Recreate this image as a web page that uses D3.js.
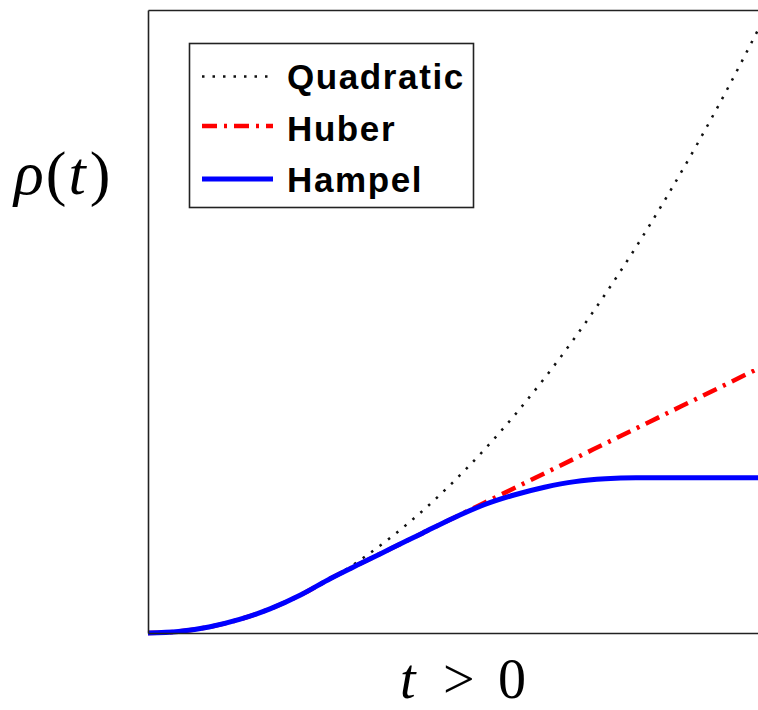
<!DOCTYPE html>
<html>
<head>
<meta charset="utf-8">
<script src="https://cdn.jsdelivr.net/npm/d3@7"></script>
<style>
  html, body { margin: 0; padding: 0; background: #fff; }
  svg { display: block; }
</style>
</head>
<body>
<svg id="chart" width="758" height="710"></svg>
<script>
// Loss functions rho(t) for t > 0, sampled at these t values
const tValues = [0, 0.5, 1, 1.5, 2, 2.5, 3, 3.5, 4, 4.5, 5, 5.5, 6, 6.5, 7, 7.5, 8, 8.5, 9, 9.5, 10];
const quadraticValues = [0, 0.024, 0.097, 0.218, 0.387, 0.605, 0.871, 1.186, 1.549, 1.960, 2.420, 2.928, 3.485, 4.090, 4.743, 5.445, 6.195, 6.994, 7.841, 8.736, 9.680];
const huberValues = [0, 0.024, 0.097, 0.218, 0.387, 0.610, 0.880, 1.123, 1.363, 1.603, 1.843, 2.083, 2.323, 2.563, 2.803, 3.043, 3.283, 3.523, 3.763, 4.003, 4.243];
const hampelValues = [0, 0.024, 0.097, 0.218, 0.387, 0.610, 0.880, 1.123, 1.363, 1.603, 1.843, 2.055, 2.215, 2.340, 2.430, 2.475, 2.490, 2.490, 2.490, 2.490, 2.490];
const seriesNames = ["Quadratic", "Huber", "Hampel"];

const svg = d3.select("#chart");
const x = d3.scaleLinear().domain([0, 10]).range([148, 758]);
const y = d3.scaleLinear().domain([0, 10]).range([633, 10]);

const styles = {
  Quadratic: { color: "#111", width: 2.5, dash: "2.5,8" },
  Huber:     { color: "#ff0000", width: 4.5, dash: "15,7,3,7" },
  Hampel:    { color: "#0000ff", width: 5, dash: null }
};
const valuesBy = { Quadratic: quadraticValues, Huber: huberValues, Hampel: hampelValues };

svg.append("clipPath").attr("id", "plot-clip")
  .append("rect").attr("x", 146).attr("y", 8).attr("width", 620).attr("height", 628);

const line = d3.line()
  .x(d => x(d[0]))
  .y(d => y(d[1]))
  .curve(d3.curveMonotoneX);

const plot = svg.append("g").attr("clip-path", "url(#plot-clip)");
seriesNames.forEach(name => {
  const s = styles[name];
  plot.append("path")
    .datum(tValues.map((t, i) => [t, valuesBy[name][i]]))
    .attr("fill", "none")
    .attr("stroke", s.color)
    .attr("stroke-width", s.width)
    .attr("stroke-dasharray", s.dash)
    .attr("d", line);
});

// Frame: bottom, left and top edges, no ticks
const frame = svg.append("g").attr("class", "frame");
frame.append("g").attr("transform", `translate(0,${y(0)})`)
  .call(d3.axisBottom(x).ticks(0).tickSizeOuter(0));
frame.append("g").attr("transform", `translate(${x(0)},0)`)
  .call(d3.axisLeft(y).ticks(0).tickSizeOuter(0));
frame.append("g").attr("transform", `translate(0,${y(10)})`)
  .call(d3.axisTop(x).ticks(0).tickSizeOuter(0));
frame.selectAll(".domain").attr("stroke", "#222").attr("stroke-width", 1.6);

// Legend
const legend = svg.append("g").attr("class", "legend");
legend.append("rect")
  .attr("x", 189.5).attr("y", 43.5).attr("width", 284).attr("height", 164)
  .attr("fill", "#fff").attr("stroke", "#222").attr("stroke-width", 1.6);
const legendRows = [76.5, 126, 179];
const legendBaselines = [88.5, 141, 191.5];
seriesNames.forEach((name, i) => {
  const s = styles[name];
  legend.append("line")
    .attr("x1", 202).attr("x2", 273)
    .attr("y1", legendRows[i]).attr("y2", legendRows[i])
    .attr("stroke", s.color)
    .attr("stroke-width", s.width)
    .attr("stroke-dasharray", s.dash);
  legend.append("text")
    .attr("x", 287).attr("y", legendBaselines[i])
    .attr("font-family", "Liberation Sans, Arial, sans-serif")
    .attr("font-weight", "bold")
    .attr("font-size", 35)
    .attr("letter-spacing", 1.6)
    .attr("fill", "#000")
    .text(name);
});

// Axis titles
const yTitle = svg.append("text")
  .attr("x", 14).attr("y", 194)
  .attr("font-family", "Liberation Serif, serif")
  .attr("font-size", 62)
  .attr("fill", "#000");
yTitle.append("tspan").attr("font-style", "italic").text("ρ");
yTitle.append("tspan").attr("dx", 2).text("(");
yTitle.append("tspan").attr("dx", 2).attr("font-style", "italic").text("t");
yTitle.append("tspan").attr("dx", 4).text(")");

const xTitle = svg.append("text")
  .attr("y", 698)
  .attr("font-family", "Liberation Serif, serif")
  .attr("font-size", 56)
  .attr("fill", "#000");
xTitle.append("tspan").attr("x", 400).attr("font-style", "italic").text("t");
xTitle.append("tspan").attr("x", 443).text(">");
xTitle.append("tspan").attr("x", 498).text("0");
</script>
</body>
</html>
